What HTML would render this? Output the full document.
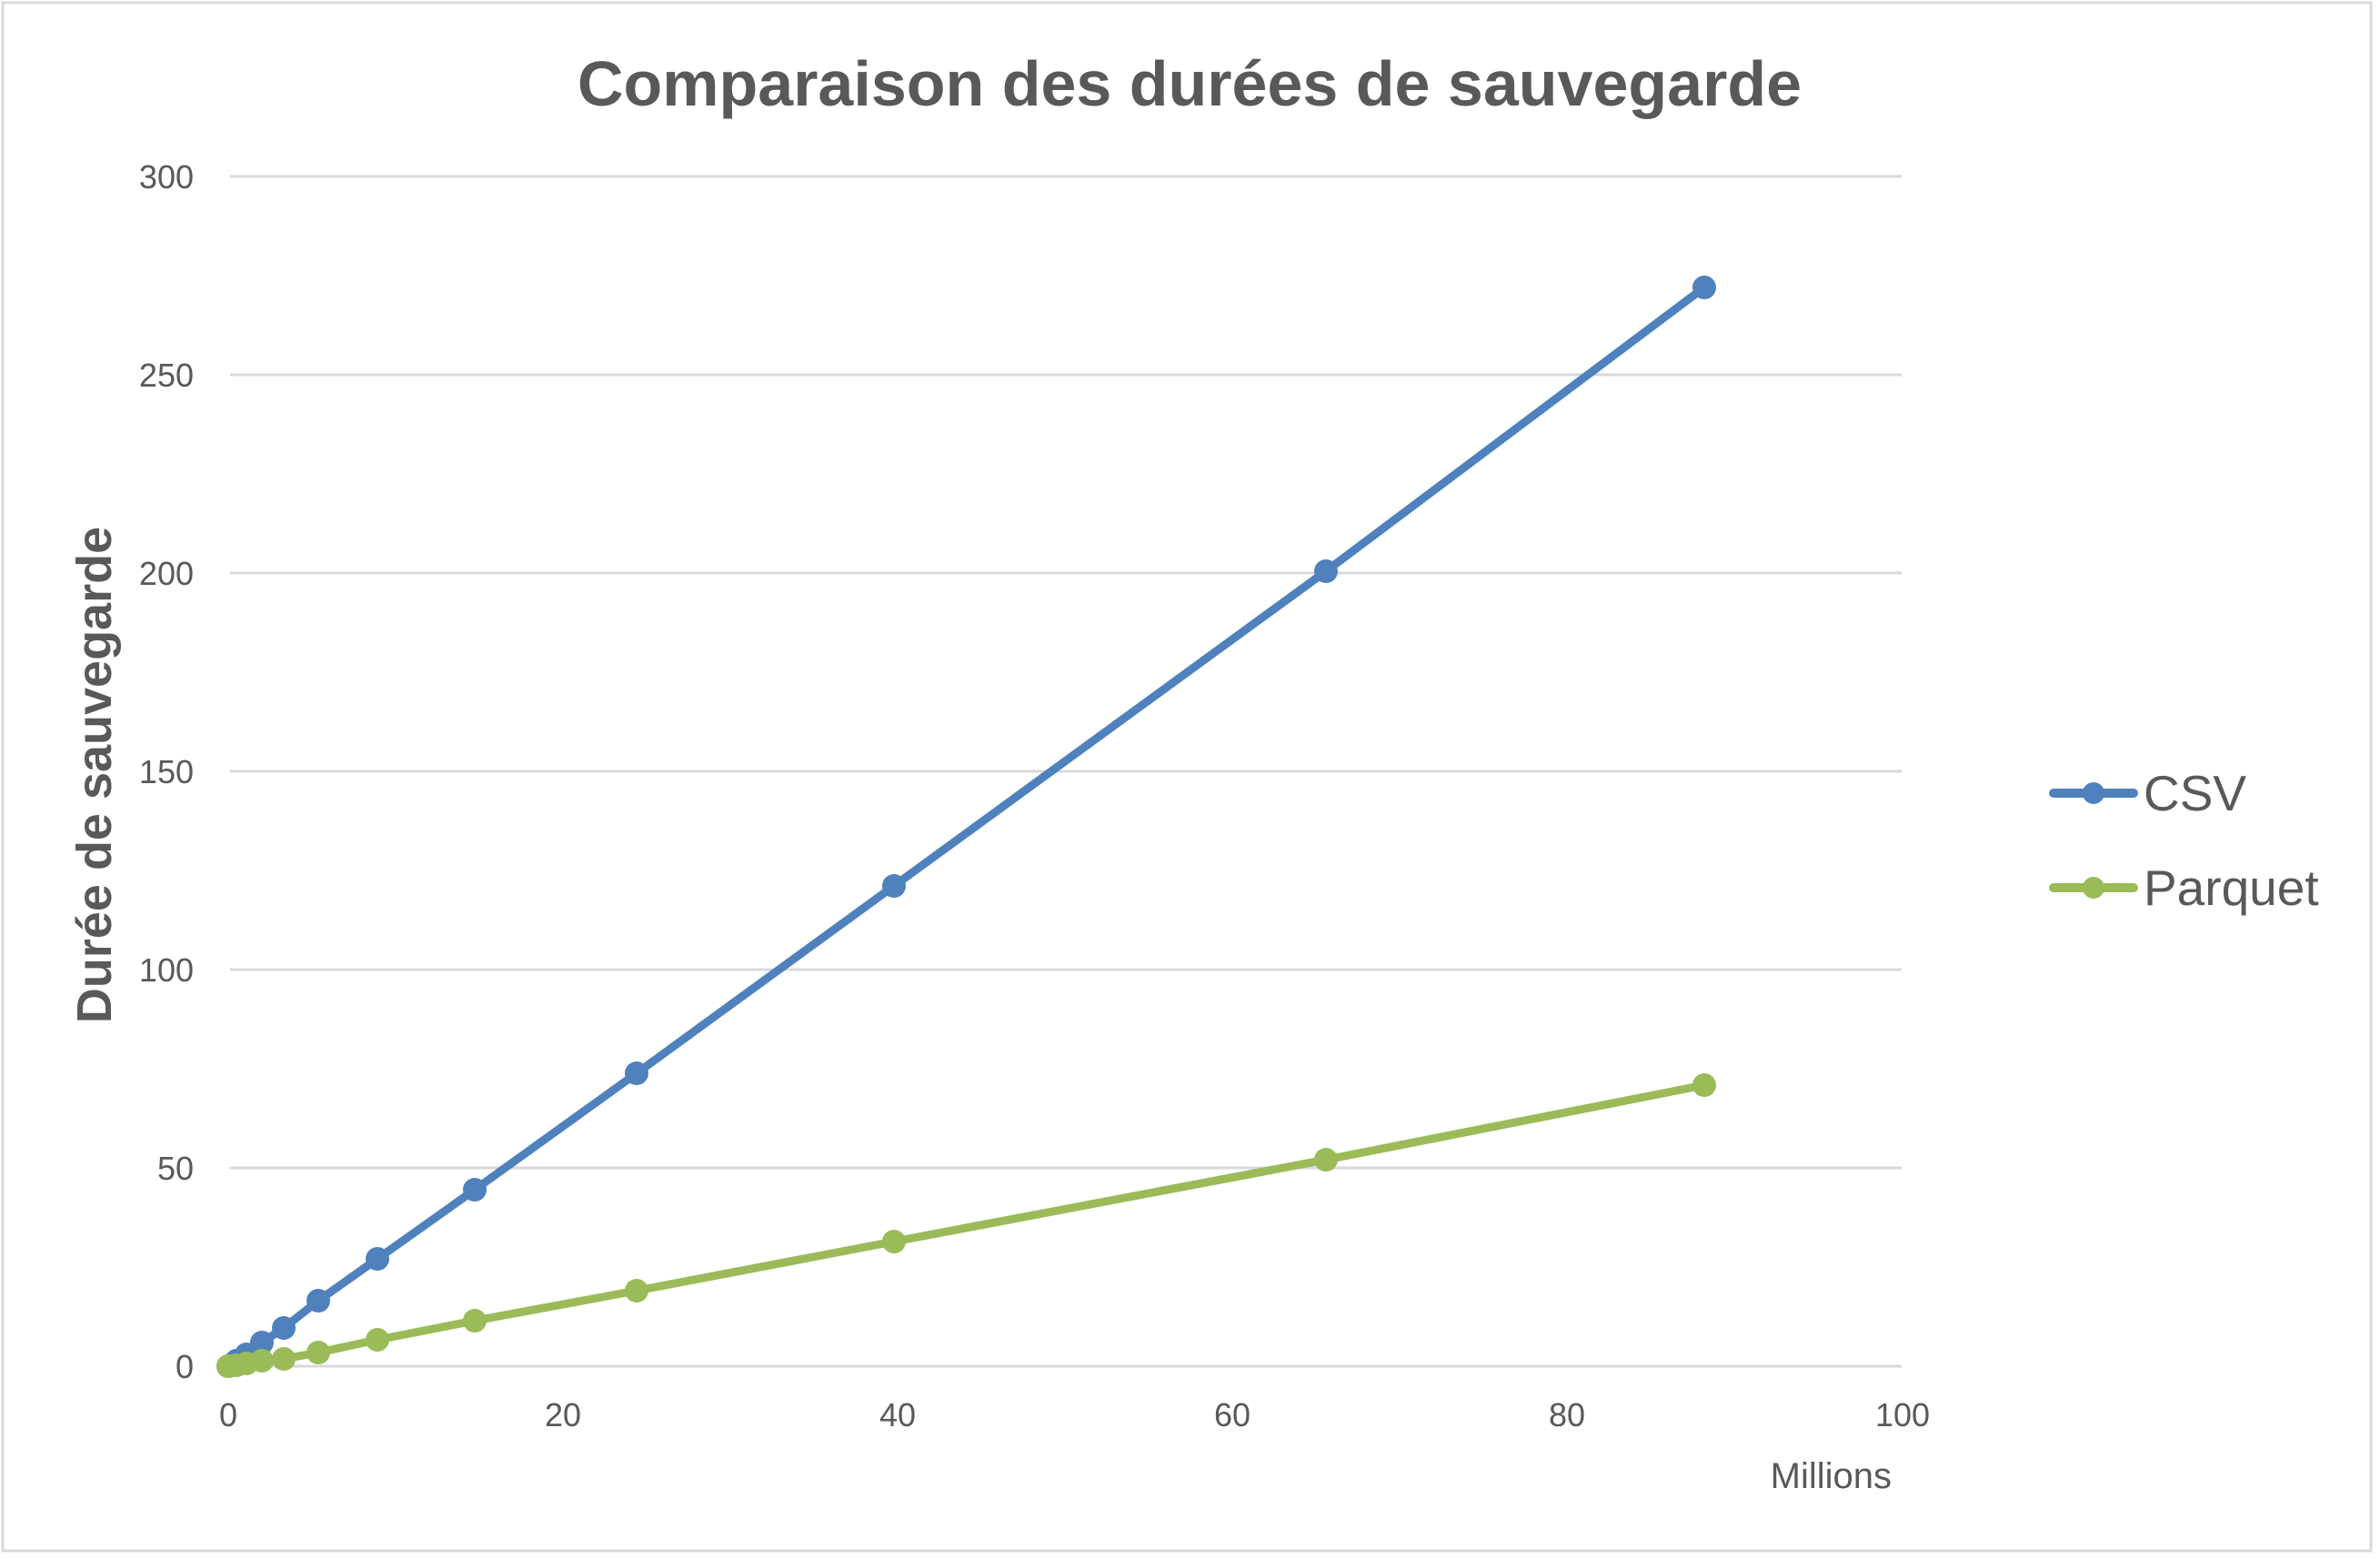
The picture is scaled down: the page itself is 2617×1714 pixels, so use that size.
<!DOCTYPE html>
<html><head><meta charset="utf-8"><style>html,body{margin:0;padding:0;background:#fff}svg{display:block}</style></head>
<body>
<svg width="2617" height="1714" viewBox="0 0 2617 1714" xmlns="http://www.w3.org/2000/svg" font-family="'Liberation Sans', sans-serif">
<rect x="3" y="3" width="2604" height="1702" fill="#fff" stroke="#d9d9d9" stroke-width="3"/>
<text x="1308" y="116" text-anchor="middle" font-size="70" font-weight="bold" fill="#595959">Comparaison des durées de sauvegarde</text>
<g stroke="#d9d9d9" stroke-width="3">
<line x1="253" y1="194" x2="2091" y2="194"/>
<line x1="253" y1="412" x2="2091" y2="412"/>
<line x1="253" y1="630" x2="2091" y2="630"/>
<line x1="253" y1="848" x2="2091" y2="848"/>
<line x1="253" y1="1066" x2="2091" y2="1066"/>
<line x1="253" y1="1284" x2="2091" y2="1284"/>
<line x1="253" y1="1502" x2="2091" y2="1502"/>
</g>
<g font-size="36" fill="#595959" text-anchor="end">
<text x="213" y="207">300</text><text x="213" y="425">250</text><text x="213" y="643">200</text>
<text x="213" y="861">150</text><text x="213" y="1079">100</text><text x="213" y="1297">50</text><text x="213" y="1515">0</text>
</g>
<g font-size="36" fill="#595959" text-anchor="middle">
<text x="251" y="1568">0</text><text x="619" y="1568">20</text><text x="987" y="1568">40</text>
<text x="1355" y="1568">60</text><text x="1723" y="1568">80</text><text x="2092" y="1568">100</text>
</g>
<text x="2080" y="1636" text-anchor="end" font-size="40" fill="#595959">Millions</text>
<text transform="translate(122,852) rotate(-90)" text-anchor="middle" font-size="54" font-weight="bold" fill="#595959">Durée de sauvegarde</text>
<g fill="none" stroke-width="9" stroke-linejoin="round" stroke-linecap="round">
<polyline stroke="#4f81bd" points="251,1502 260,1496 271,1489 288,1476 312,1460 350,1430 415,1384 522,1308 700,1180 983,974 1458,628 1874,316"/>
<polyline stroke="#9bbb59" points="251,1502 260,1501 271,1499 288,1496 312,1494 350,1487 415,1473 522,1452 700,1419 983,1365 1458,1275 1874,1193"/>
</g>
<g fill="#4f81bd">
<circle cx="251" cy="1502" r="13"/><circle cx="260" cy="1496" r="13"/><circle cx="271" cy="1489" r="13"/><circle cx="288" cy="1476" r="13"/><circle cx="312" cy="1460" r="13"/><circle cx="350" cy="1430" r="13"/><circle cx="415" cy="1384" r="13"/><circle cx="522" cy="1308" r="13"/><circle cx="700" cy="1180" r="13"/><circle cx="983" cy="974" r="13"/><circle cx="1458" cy="628" r="13"/><circle cx="1874" cy="316" r="13"/>
</g>
<g fill="#9bbb59">
<circle cx="251" cy="1502" r="13"/><circle cx="260" cy="1501" r="13"/><circle cx="271" cy="1499" r="13"/><circle cx="288" cy="1496" r="13"/><circle cx="312" cy="1494" r="13"/><circle cx="350" cy="1487" r="13"/><circle cx="415" cy="1473" r="13"/><circle cx="522" cy="1452" r="13"/><circle cx="700" cy="1419" r="13"/><circle cx="983" cy="1365" r="13"/><circle cx="1458" cy="1275" r="13"/><circle cx="1874" cy="1193" r="13"/>
</g>
<line x1="2258" y1="872" x2="2346" y2="872" stroke="#4f81bd" stroke-width="10" stroke-linecap="round"/>
<circle cx="2302" cy="872" r="12" fill="#4f81bd"/>
<line x1="2258" y1="976" x2="2346" y2="976" stroke="#9bbb59" stroke-width="10" stroke-linecap="round"/>
<circle cx="2302" cy="976" r="12" fill="#9bbb59"/>
<g font-size="55" fill="#595959">
<text x="2357" y="891">CSV</text>
<text x="2357" y="995">Parquet</text>
</g>
</svg>
</body></html>
